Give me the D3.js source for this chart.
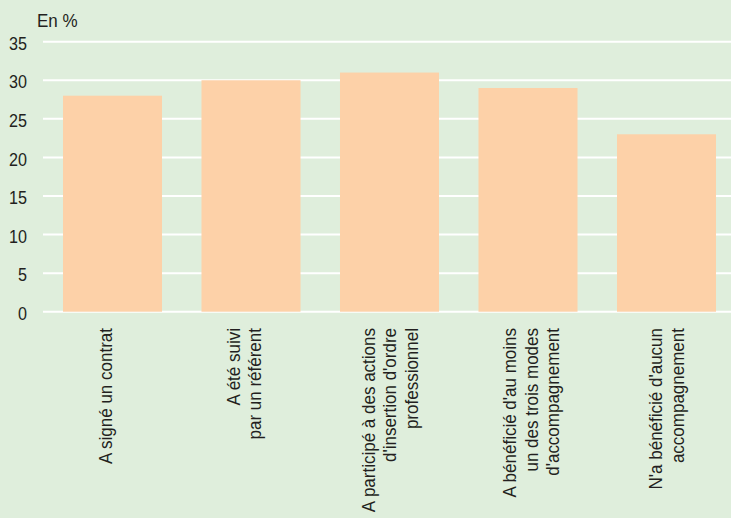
<!DOCTYPE html>
<html>
<head>
<meta charset="utf-8">
<script src="https://cdn.jsdelivr.net/npm/d3@7"></script>
<style>
  body { margin: 0; background: #dfeedc; }
  svg { display: block; }
  text { font-family: "Liberation Sans Narrow", "Arial Narrow", "Liberation Sans", Arial, sans-serif; fill: #231f20; }
</style>
</head>
<body>
<div id="chart"></div>
<script>
const w = 731;
const h = 518;

// data
const categories = [
  ['A signé un contrat'],
  ['A été suivi', 'par un référent'],
  ['A participé à des actions', 'd\'insertion d\'ordre', 'professionnel'],
  ['A bénéficié d\'au moins', 'un des trois modes', 'd\'accompagnement'],
  ['N\'a bénéficié d\'aucun', 'accompagnement']
];
const values = [28, 30, 31, 29, 23];
const ticks = [0, 5, 10, 15, 20, 25, 30, 35];

// horizontal squeeze to imitate the narrow font of the original
const sxTick = 0.85;
const sx = 0.895;
// the original labels are not all exactly centred under their bar
const labelShift = [-7, -7, 0, 3, 0];

const svg = d3.select('#chart')
  .append('svg')
  .attr('width', w)
  .attr('height', h);

svg.append('rect')
  .attr('width', w)
  .attr('height', h)
  .attr('fill', '#dfeedc');

const xScale = d3.scaleBand()
  .domain(d3.range(values.length))
  .range([43.25, 735.75])
  .paddingInner(0.285)
  .paddingOuter(0.1425);

const yScale = d3.scaleLinear()
  .domain([0, 35])
  .range([311.7, 41.7]);

// gridlines
svg.selectAll('line.grid')
  .data(ticks)
  .enter()
  .append('line')
  .attr('class', 'grid')
  .attr('x1', 43)
  .attr('x2', w)
  .attr('y1', d => yScale(d))
  .attr('y2', d => yScale(d))
  .attr('stroke', '#ffffff')
  .attr('stroke-width', 2);

// tick labels
svg.selectAll('text.tick')
  .data(ticks)
  .enter()
  .append('text')
  .attr('class', 'tick')
  .attr('transform', d => 'translate(27,' + yScale(d) + ') scale(' + sxTick + ',1)')
  .attr('dy', '0.43em')
  .attr('text-anchor', 'end')
  .style('font-size', '19px')
  .text(d => d);

svg.append('text')
  .attr('transform', 'translate(37,27) scale(' + sx + ',1)')
  .style('font-size', '19px')
  .text('En %');

// bars
svg.selectAll('rect.bar')
  .data(values)
  .enter()
  .append('rect')
  .attr('class', 'bar')
  .attr('x', (d, i) => xScale(i))
  .attr('y', d => yScale(d))
  .attr('width', xScale.bandwidth())
  .attr('height', d => yScale(0) - yScale(d))
  .attr('fill', '#fdd1a8');

// category labels, rotated
const lineH = 21.5;
svg.selectAll('g.cat')
  .data(categories)
  .enter()
  .append('g')
  .attr('class', 'cat')
  .attr('transform', (d, i) => {
    const cx = xScale(i) + xScale.bandwidth() / 2 + labelShift[i];
    return 'translate(' + cx + ',328) rotate(-90)';
  })
  .each(function(lines) {
    const g = d3.select(this);
    const n = lines.length;
    lines.forEach((t, j) => {
      g.append('text')
        .attr('transform', 'translate(0,' + ((j - (n - 1) / 2) * lineH) + ') scale(' + sx + ',1)')
        .attr('dy', '0.35em')
        .attr('text-anchor', 'end')
        .style('font-size', '19px')
        .text(t);
    });
  });
</script>
</body>
</html>
